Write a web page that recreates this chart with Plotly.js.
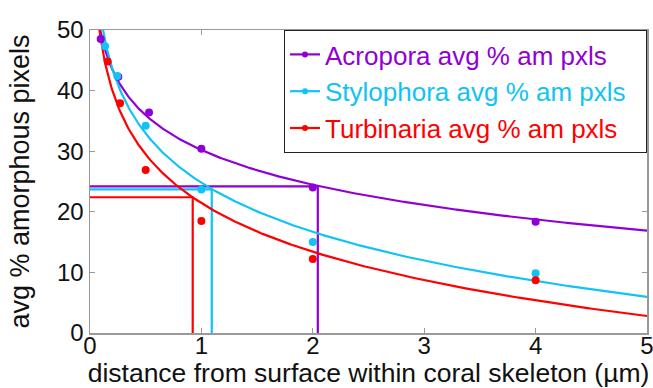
<!DOCTYPE html>
<html>
<head>
<meta charset="utf-8">
<script src="https://cdn.plot.ly/plotly-3.0.1.min.js"></script>
<style>html,body{margin:0;padding:0;background:#fff;}#chart{width:653px;height:388px;}</style>
</head>
<body>
<div id="chart"></div>
<script>
// Series names
const seriesNames = ["Acropora avg % am pxls", "Stylophora avg % am pxls", "Turbinaria avg % am pxls"];
const seriesColors = ["#9000D6", "#10C3F5", "#FF0000"];

// Measured points (distance µm, avg % amorphous pixels)
const acroporaX = [0.096, 0.254, 0.53, 1, 2, 4];
const acroporaY = [48.5, 42.3, 36.4, 30.4, 24.0, 18.35];
const stylophoraX = [0.135, 0.245, 0.5, 1, 2, 4];
const stylophoraY = [47.3, 42.4, 34.2, 23.7, 15.0, 9.87];
const turbinariaX = [0.159, 0.27, 0.5, 1, 2, 4];
const turbinariaY = [44.8, 37.9, 26.9, 18.5, 12.2, 8.7];

// Reference (drop) lines: level and distance for each series
const refLevelY = [24.2, 23.7, 22.4];
const refDistX = [2.045, 1.093, 0.922];

// Axis ticks
const xTicks = [0, 1, 2, 3, 4, 5];
const yTicks = [0, 10, 20, 30, 40, 50];

const seriesX = [acroporaX, stylophoraX, turbinariaX];
const seriesY = [acroporaY, stylophoraY, turbinariaY];

// Logarithmic trendline (least squares y = a + b ln x), as in the source
function logFit(xs, ys) {
  const lx = xs.map(Math.log);
  const n = xs.length;
  const mx = lx.reduce((s, v) => s + v, 0) / n;
  const my = ys.reduce((s, v) => s + v, 0) / n;
  let sxy = 0, sxx = 0;
  for (let i = 0; i < n; i++) { sxy += (lx[i] - mx) * (ys[i] - my); sxx += (lx[i] - mx) ** 2; }
  const b = sxy / sxx;
  return { a: my - b * mx, b: b };
}

const traces = [];
const gridX = [];
for (let v = 0.05; v <= 5.0001; v += 0.01) gridX.push(+v.toFixed(3));

for (let i = 0; i < 3; i++) {
  const f = logFit(seriesX[i], seriesY[i]);
  traces.push({
    x: gridX, y: gridX.map(x => f.a + f.b * Math.log(x)),
    mode: "lines", line: { color: seriesColors[i], width: 2.2 },
    showlegend: false, hoverinfo: "skip"
  });
  traces.push({
    x: [0, refDistX[i], refDistX[i]], y: [refLevelY[i], refLevelY[i], 0],
    mode: "lines", line: { color: seriesColors[i], width: 2.2 },
    showlegend: false, hoverinfo: "skip"
  });
}
for (let i = 0; i < 3; i++) {
  traces.push({
    x: seriesX[i], y: seriesY[i], mode: "markers",
    marker: { color: seriesColors[i], size: 8 },
    showlegend: false, cliponaxis: false
  });
}
for (let i = 0; i < 3; i++) {
  traces.push({
    x: [null], y: [null], mode: "lines+markers", name: seriesNames[i] + "\u00A0\u00A0",
    line: { color: seriesColors[i], width: 2.2 },
    marker: { color: seriesColors[i], size: 6 }
  });
}

const fam = "Liberation Sans, Arial, sans-serif";
const tickFont = { family: fam, size: 24, color: "#111" };

const layout = {
  width: 653, height: 388,
  margin: { l: 90, r: 6, t: 30, b: 55 },
  paper_bgcolor: "#fff", plot_bgcolor: "#fff",
  font: { family: fam },
  xaxis: {
    range: [0, 5], tickvals: xTicks, ticktext: xTicks.map(String),
    ticks: "inside", ticklen: 5, tickcolor: "#999",
    showline: true, linecolor: "#999", linewidth: 1.5, mirror: "ticks",
    showgrid: false, zeroline: false, tickfont: tickFont,
    ticklabeloverflow: "allow", ticklabelstandoff: -9,
    title: { text: "distance from surface within coral skeleton (µm)", font: { family: fam, size: 26.5, color: "#111" }, standoff: 0 }
  },
  yaxis: {
    range: [0, 50], tickvals: yTicks, ticktext: yTicks.map(String),
    ticks: "inside", ticklen: 5, tickcolor: "#999",
    showline: true, linecolor: "#999", linewidth: 1.5, mirror: "ticks",
    showgrid: false, zeroline: false, tickfont: tickFont,
    ticklabeloverflow: "allow",
    title: { text: "avg % amorphous pixels", font: { family: fam, size: 27, color: "#111" }, standoff: 19 }
  },
  legend: {
    x: 1, xanchor: "right", y: 1, yanchor: "top",
    bordercolor: "#222", borderwidth: 1, bgcolor: "#fff",
    font: { family: fam, size: 26 },
    tracegroupgap: 0
  },
  showlegend: true
};

Plotly.newPlot("chart", traces, layout, { displayModeBar: false, staticPlot: true }).then(() => {
  // colour legend text like the series
  document.querySelectorAll(".legend .traces").forEach((g, i) => {
    const t = g.querySelector("text.legendtext");
    if (t) t.style.fill = seriesColors[i];
  });
});
</script>
</body>
</html>
